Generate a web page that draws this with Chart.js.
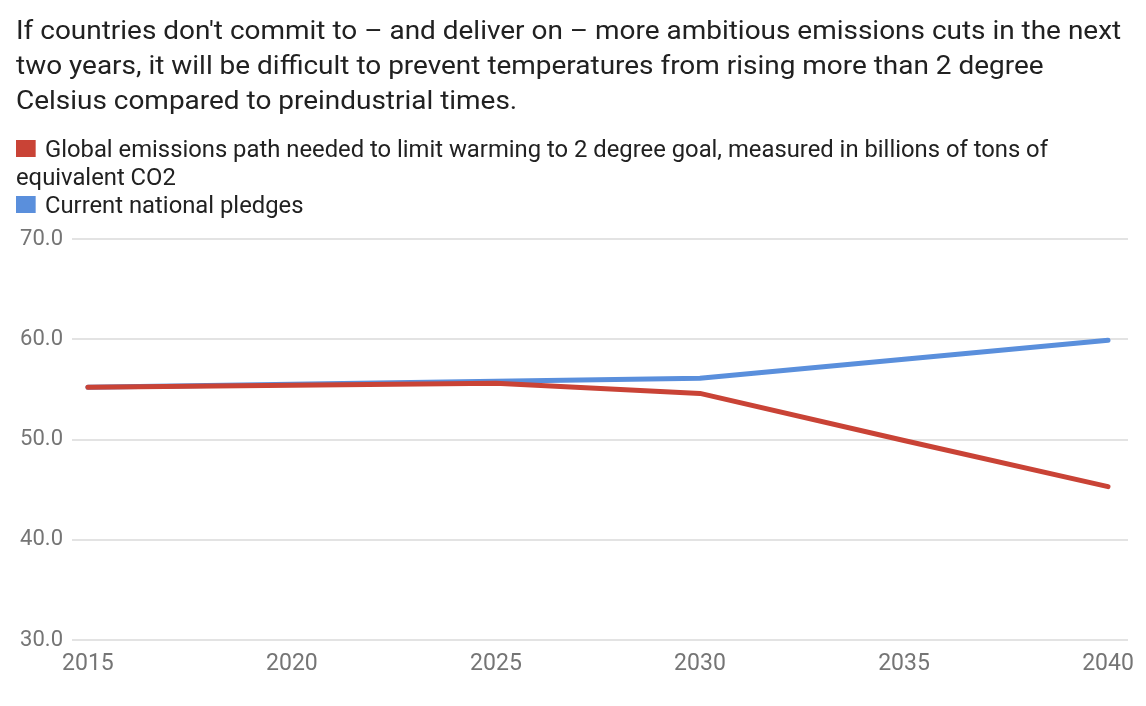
<!DOCTYPE html>
<html>
<head>
<meta charset="utf-8">
<script src="https://cdn.jsdelivr.net/npm/chart.js@4/dist/chart.umd.min.js"></script>
<style>
  html, body { margin: 0; padding: 0; background: #fff; }
  body { width: 1146px; height: 706px; position: relative; overflow: hidden; font-family: Roboto, "Noto Sans", sans-serif; }
  #title { position: absolute; left: 16px; top: 13px; font-size: 25px; line-height: 35px; color: #212121; white-space: nowrap; transform: scaleX(1.118); transform-origin: 0 0; }
  #legend { position: absolute; left: 16px; top: 136px; width: 1063px; font-size: 23px; line-height: 28px; color: #212121; transform: scaleX(1.035); transform-origin: 0 0; }
  #legend .sw { display: inline-block; width: 19.3px; height: 17px; margin-right: 8.7px; vertical-align: 0; }
  #c { position: absolute; left: 0; top: 0; }
</style>
</head>
<body>
<canvas id="c" width="1146" height="706"></canvas>
<div id="title"></div>
<div id="legend"></div>
<script>
const titleLines = [
  "If countries don't commit to – and deliver on – more ambitious emissions cuts in the next",
  "two years, it will be difficult to prevent temperatures from rising more than 2 degree",
  "Celsius compared to preindustrial times."
];
const years = [2015, 2020, 2025, 2030, 2035, 2040];
const neededPath = [55.2, 55.4, 55.6, 54.6, 49.9, 45.3];
const currentPledges = [55.2, 55.5, 55.8, 56.1, 58.0, 59.9];
const seriesNames = [
  "Global emissions path needed to limit warming to 2 degree goal, measured in billions of tons of equivalent CO2",
  "Current national pledges"
];
const seriesColors = ["#c94336", "#5a8fdc"];
const yTicks = [30, 40, 50, 60, 70];

document.getElementById('title').innerHTML = titleLines.map(t => '<div>' + t.replace(/</g, '&lt;') + '</div>').join('');

const chart = new Chart(document.getElementById('c'), {
  type: 'line',
  data: {
    datasets: [
      {
        label: seriesNames[0],
        data: years.map((x, i) => ({ x: x, y: neededPath[i] })),
        borderColor: seriesColors[0], backgroundColor: seriesColors[0]
      },
      {
        label: seriesNames[1],
        data: years.map((x, i) => ({ x: x, y: currentPledges[i] })),
        borderColor: seriesColors[1], backgroundColor: seriesColors[1]
      }
    ]
  },
  options: {
    responsive: false,
    animation: false,
    devicePixelRatio: 1,
    layout: { padding: { left: 0, top: 239, right: 18, bottom: 0 } },
    elements: {
      line: { borderWidth: 5, tension: 0, borderCapStyle: 'round', borderJoinStyle: 'round' },
      point: { radius: 0, hoverRadius: 0 }
    },
    plugins: { legend: { display: false }, title: { display: false }, tooltip: { enabled: false } },
    scales: {
      x: {
        type: 'linear',
        min: 2014.61,
        max: 2040.49,
        afterBuildTicks: s => { s.ticks = years.map(v => ({ value: v })); },
        afterFit: s => { s.height = 66; },
        grid: { display: false, drawTicks: false },
        border: { display: false },
        ticks: { padding: 10, maxRotation: 0, autoSkip: false, color: '#757575', font: { family: 'Roboto', size: 23 }, callback: v => String(v) }
      },
      y: {
        min: 30, max: 70,
        afterBuildTicks: s => { s.ticks = yTicks.map(v => ({ value: v })); },
        afterFit: s => { s.width = 72; },
        grid: { color: '#e3e3e3', lineWidth: 2, drawTicks: false },
        border: { display: false },
        ticks: { padding: 9, color: '#757575', font: { family: 'Roboto', size: 22 }, callback: v => Number(v).toFixed(1) }
      }
    }
  }
});

document.getElementById('legend').innerHTML = chart.data.datasets.map(d =>
  '<div class="item"><span class="sw" style="background:' + d.borderColor + '"></span>' + d.label + '</div>'
).join('');
</script>
</body>
</html>
